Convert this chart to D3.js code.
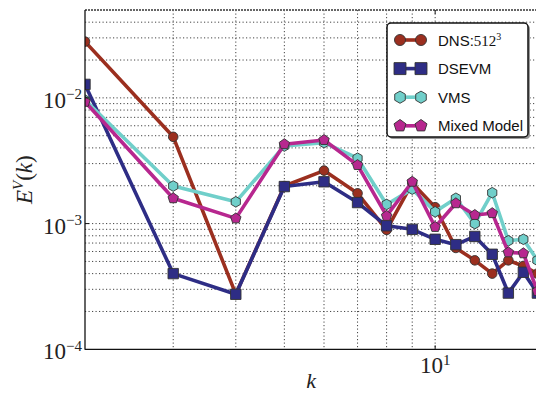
<!DOCTYPE html>
<html>
<head>
<meta charset="utf-8">
<script src="https://cdn.jsdelivr.net/npm/d3@7"></script>
<style>
  body { margin: 0; background: #fff; }
  svg { display: block; }
</style>
</head>
<body>
<div id="chart"></div>
<script>
// wavenumbers (x) and energy spectra per model
const kValues = [2, 3, 4, 5, 6, 7, 8, 9, 10, 11, 12, 13, 14, 15, 16];
const dnsValues = [0.028, 4.9e-3, 2.75e-4, 1.99e-3, 2.64e-3, 1.74e-3, 8.9e-4, 2.1e-3, 1.35e-3, 6.4e-4, 5.1e-4, 4.0e-4, 5.1e-4, 4.6e-4, 4.0e-4];
const dsevmValues = [1.28e-2, 4.0e-4, 2.74e-4, 1.97e-3, 2.15e-3, 1.47e-3, 9.6e-4, 9.0e-4, 7.5e-4, 6.8e-4, 7.9e-4, 5.7e-4, 2.8e-4, 4.1e-4, 2.8e-4];
const vmsValues = [9.6e-3, 1.99e-3, 1.49e-3, 4.14e-3, 4.4e-3, 3.31e-3, 1.42e-3, 1.88e-3, 1.24e-3, 1.59e-3, 1.0e-3, 1.76e-3, 7.3e-4, 7.5e-4, 5.1e-4];
const mixedValues = [9.3e-3, 1.59e-3, 1.1e-3, 4.28e-3, 4.62e-3, 2.92e-3, 1.15e-3, 2.15e-3, 9.4e-4, 1.45e-3, 1.17e-3, 1.21e-3, 5.9e-4, 5.8e-4, 2.9e-4];

const seriesNames = ['DNS', 'DSEVM', 'VMS', 'Mixed Model'];
const yTickValues = [1e-4, 1e-3, 1e-2];
const yTickExps = ['−4', '−3', '−2'];
const xTickValues = [10];
const xTickExps = ['1'];

const width = 536, height = 393;
const plotLeft = 85, plotRight = 537.4, plotTop = 10, plotBottom = 349.3;

const series = [
    { name: seriesNames[0], values: dnsValues, color: '#9b2f1f', shape: 'circle' },
    { name: seriesNames[1], values: dsevmValues, color: '#2e2d85', shape: 'square' },
    { name: seriesNames[2], values: vmsValues, color: '#70cfca', shape: 'hexagon' },
    { name: seriesNames[3], values: mixedValues, color: '#b7278f', shape: 'pentagon' }
];

const x = d3.scaleLog().domain([2, 16]).range([plotLeft, plotRight]);
const y = d3.scaleLog().domain([1e-4, 5e-2]).range([plotBottom, plotTop]);

const svg = d3.select('#chart').append('svg')
    .attr('width', width)
    .attr('height', height);

svg.append('defs').append('clipPath')
    .attr('id', 'plot-clip')
    .append('rect')
    .attr('x', plotLeft).attr('y', plotTop)
    .attr('width', plotRight - plotLeft).attr('height', plotBottom - plotTop);

// grid (major + minor decades)
const xGrid = [3, 4, 5, 6, 7, 8, 9, 10];
const yGrid = [];
[1e-4, 1e-3, 1e-2].forEach(d => {
    for (let m = 1; m <= 9; m++) {
        const v = d * m;
        if (v > 1.01e-4 && v < 4.9e-2) yGrid.push(v);
    }
});

const grid = svg.append('g').attr('class', 'grid');
grid.selectAll('.vg')
    .data(xGrid)
    .enter().append('line')
    .attr('x1', d => x(d)).attr('x2', d => x(d))
    .attr('y1', plotTop).attr('y2', plotBottom)
    .attr('stroke', '#444')
    .attr('stroke-width', 1)
    .attr('stroke-dasharray', '1.2,2.3');

grid.selectAll('.hg')
    .data(yGrid)
    .enter().append('line')
    .attr('x1', plotLeft).attr('x2', plotRight)
    .attr('y1', d => y(d)).attr('y2', d => y(d))
    .attr('stroke', '#444')
    .attr('stroke-width', 1)
    .attr('stroke-dasharray', '1.2,2.3');

// top frame (dotted, grey)
svg.append('line')
    .attr('x1', plotLeft).attr('x2', plotRight)
    .attr('y1', plotTop).attr('y2', plotTop)
    .attr('stroke', '#666')
    .attr('stroke-width', 2)
    .attr('stroke-dasharray', '2,1');

// series
const markerPath = (shape, s) => {
    if (shape === 'circle') return d3.symbol(d3.symbolCircle, Math.PI * s * s)();
    if (shape === 'square') {
        const h = s;
        return `M${-h},${-h}H${h}V${h}H${-h}Z`;
    }
    const n = shape === 'hexagon' ? 6 : 5;
    const pts = d3.range(n).map(i => {
        const a = -Math.PI / 2 + i * 2 * Math.PI / n;
        return [s * Math.cos(a), s * Math.sin(a)];
    });
    return 'M' + pts.map(p => p.join(',')).join('L') + 'Z';
};
const markerSize = { circle: 4.8, square: 5.2, hexagon: 5.3, pentagon: 5.5 };

const line = d3.line()
    .x(d => x(d.k))
    .y(d => y(d.v));

const plot = svg.append('g').attr('clip-path', 'url(#plot-clip)');

series.forEach(s => {
    const pts = kValues.map((k, i) => ({ k: k, v: s.values[i] }));
    const g = plot.append('g');
    g.append('path')
        .datum(pts)
        .attr('fill', 'none')
        .attr('stroke', s.color)
        .attr('stroke-width', 3.6)
        .attr('stroke-linejoin', 'round')
        .attr('d', line);
    g.selectAll('.m')
        .data(pts)
        .enter().append('path')
        .attr('transform', d => `translate(${x(d.k)},${y(d.v)})`)
        .attr('d', markerPath(s.shape, markerSize[s.shape]))
        .attr('fill', s.color)
        .attr('stroke', '#333')
        .attr('stroke-width', 0.9);
});

// axes spines
svg.append('line')
    .attr('x1', plotLeft).attr('x2', plotLeft)
    .attr('y1', plotTop).attr('y2', plotBottom + 0.5)
    .attr('stroke', '#111').attr('stroke-width', 1.3);
svg.append('line')
    .attr('x1', plotLeft).attr('x2', plotRight)
    .attr('y1', plotBottom).attr('y2', plotBottom)
    .attr('stroke', '#111').attr('stroke-width', 1.3);

// major ticks (inward)
svg.selectAll('.yt')
    .data(yTickValues.slice(1))
    .enter().append('line')
    .attr('x1', plotLeft).attr('x2', plotLeft + 4)
    .attr('y1', d => y(d)).attr('y2', d => y(d))
    .attr('stroke', '#111').attr('stroke-width', 1);
xTickValues.forEach(v => {
    svg.append('line')
        .attr('x1', x(v)).attr('x2', x(v))
        .attr('y1', plotBottom).attr('y2', plotBottom - 4)
        .attr('stroke', '#111').attr('stroke-width', 1);
    svg.append('line')
        .attr('x1', x(v)).attr('x2', x(v))
        .attr('y1', plotTop).attr('y2', plotTop + 4)
        .attr('stroke', '#111').attr('stroke-width', 1);
});

// tick labels
const serif = '"Liberation Serif", "DejaVu Serif", serif';
yTickValues.forEach((v, i) => {
    const t = svg.append('text')
        .attr('x', 82)
        .attr('y', y(v) + 10)
        .attr('text-anchor', 'end')
        .attr('font-family', serif)
        .attr('fill', '#222');
    t.append('tspan').attr('font-size', 23).text('10');
    t.append('tspan').attr('font-size', 15).attr('dy', -8.5).text(yTickExps[i]);
});
xTickValues.forEach((v, i) => {
    const t = svg.append('text')
        .attr('x', x(v))
        .attr('y', 373)
        .attr('text-anchor', 'middle')
        .attr('font-family', serif)
        .attr('fill', '#222');
    t.append('tspan').attr('font-size', 23).text('10');
    t.append('tspan').attr('font-size', 15).attr('dy', -8).text(xTickExps[i]);
});

// axis titles
svg.append('text')
    .attr('x', (plotLeft + plotRight) / 2)
    .attr('y', 388)
    .attr('text-anchor', 'middle')
    .attr('font-family', serif)
    .attr('font-style', 'italic')
    .attr('font-size', 22)
    .attr('fill', '#222')
    .text('k');

const yt = svg.append('text')
    .attr('transform', `translate(32, ${(plotTop + plotBottom) / 2}) rotate(-90)`)
    .attr('text-anchor', 'middle')
    .attr('font-family', serif)
    .attr('font-size', 23)
    .attr('fill', '#222');
yt.append('tspan').attr('font-style', 'italic').text('E');
yt.append('tspan').attr('font-style', 'italic').attr('font-size', 15).attr('dy', -9).text('V');
yt.append('tspan').attr('dy', 9).text('(');
yt.append('tspan').attr('font-style', 'italic').text('k');
yt.append('tspan').text(')');

// legend
const lg = svg.append('g').attr('transform', 'translate(387, 23)');
lg.append('rect')
    .attr('x', 2).attr('y', 2)
    .attr('width', 141).attr('height', 114)
    .attr('rx', 4)
    .attr('fill', '#999');
lg.append('rect')
    .attr('width', 141).attr('height', 114)
    .attr('rx', 4)
    .attr('fill', '#fff')
    .attr('stroke', '#111')
    .attr('stroke-width', 1.5);

const rowY = i => 17 + i * 28.6;
series.forEach((s, i) => {
    const r = lg.append('g').attr('transform', `translate(0, ${rowY(i)})`);
    r.append('line')
        .attr('x1', 13).attr('x2', 34)
        .attr('stroke', s.color).attr('stroke-width', 3.6);
    [13, 34].forEach(mx => {
        r.append('path')
            .attr('transform', `translate(${mx},0)`)
            .attr('d', markerPath(s.shape, markerSize[s.shape] * 1.15))
            .attr('fill', s.color)
            .attr('stroke', '#333')
            .attr('stroke-width', 0.9);
    });
    const t = r.append('text')
        .attr('x', 51)
        .attr('y', 5.5)
        .attr('font-family', '"Liberation Sans", Arial, sans-serif')
        .attr('font-size', 15)
        .attr('fill', '#111');
    if (i === 0) {
        t.append('tspan').text('DNS:');
        t.append('tspan').attr('font-family', serif).text('512');
        t.append('tspan').attr('font-family', serif).attr('font-size', 10).attr('dy', -6).text('3');
    } else {
        t.text(s.name);
    }
});
</script>
</body>
</html>
